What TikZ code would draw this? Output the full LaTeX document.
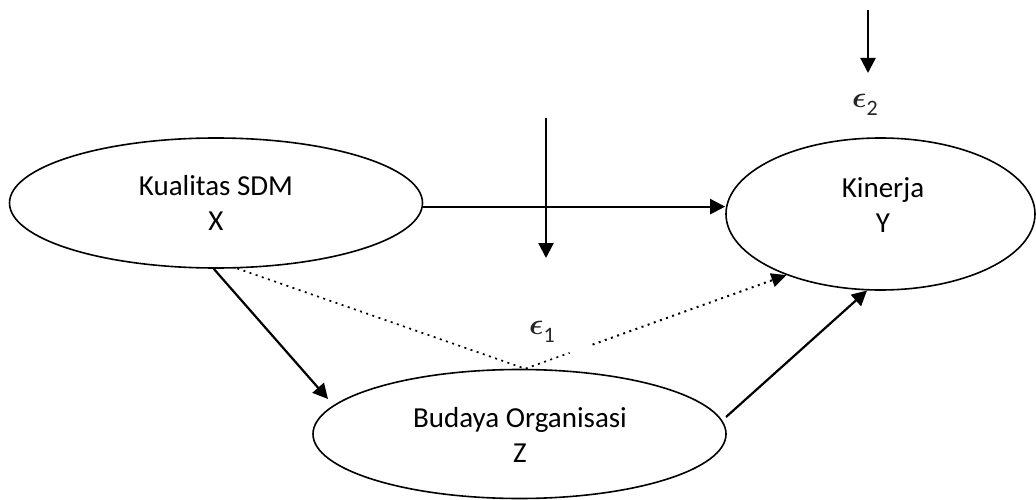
\RequirePackage{fix-cm}
\documentclass[tikz,border=0pt]{standalone}
\usepackage{amsmath}
\usepackage{fontspec}
\setmainfont{Carlito}
\usetikzlibrary{shapes.geometric,arrows.meta,calc}
\newcommand{\errterm}[1]{$\boldsymbol{\epsilon}$\raisebox{-8pt}{\fontsize{22}{22}\selectfont #1}}
\begin{document}
\begin{tikzpicture}[x=1pt,y=-1pt,
  ellip/.style={draw, ellipse, line width=1.6pt, inner sep=0pt},
  lbl/.style={align=center, font=\fontsize{29}{35}\selectfont, inner sep=0pt},
  eps/.style={font=\fontsize{30}{34}\selectfont, inner sep=0pt, text=black!85},
  arr/.style={line width=2.2pt, -{Triangle[length=15pt,width=15pt]}},
  dotline/.style={line width=2pt, dash pattern=on 2pt off 4.5pt},
]
\useasboundingbox (0,0) rectangle (1036,500);
% ellipses
\node[ellip, minimum width=413pt, minimum height=130pt] (X) at (216,203) {};
\node[ellip, minimum width=309pt, minimum height=152pt] (Y) at (880.5,214) {};
\node[ellip, minimum width=413pt, minimum height=129pt] (Z) at (519.5,434) {};
% texts
\node[lbl] (Xt) at (216,203) {Kualitas SDM\\X};
\node[lbl] (Yt) at (883,205) {Kinerja\\Y};
\node[lbl] (Zt) at (520,434.5) {Budaya Organisasi\\Z};
% error terms
\node[eps] (e1) at (542,331.5) {\errterm{1}};
\node[eps] (e2) at (865,104.5) {\errterm{2}};
% free ends
\coordinate (zt) at (328,399);
\coordinate (zs) at (726,417);
\coordinate (a1s) at (546,118);
\coordinate (a1e) at (546,258);
\coordinate (a2s) at (868,10);
\coordinate (a2e) at (868,73);
% solid arrows
\draw[arr] (X.-92.6) -- (zt);
\draw[arr] (X.-1.1) -- (X.-1.1 -| Y.west);
\draw[arr] (zs) -- (Y.-100);
\draw[arr] (a1s) -- (a1e);
\draw[arr] (a2s) -- (a2e);
% dotted path
\draw[dotline, line width=1.7pt] (X.-72) -- (Z.85) -- ($(Z.85)!0.17!(Y.-147)$);
\draw[dotline, -{Triangle[length=15pt,width=14pt]}] ($(Z.85)!0.258!(Y.-147)$) -- (Y.-147);
\end{tikzpicture}
\end{document}
